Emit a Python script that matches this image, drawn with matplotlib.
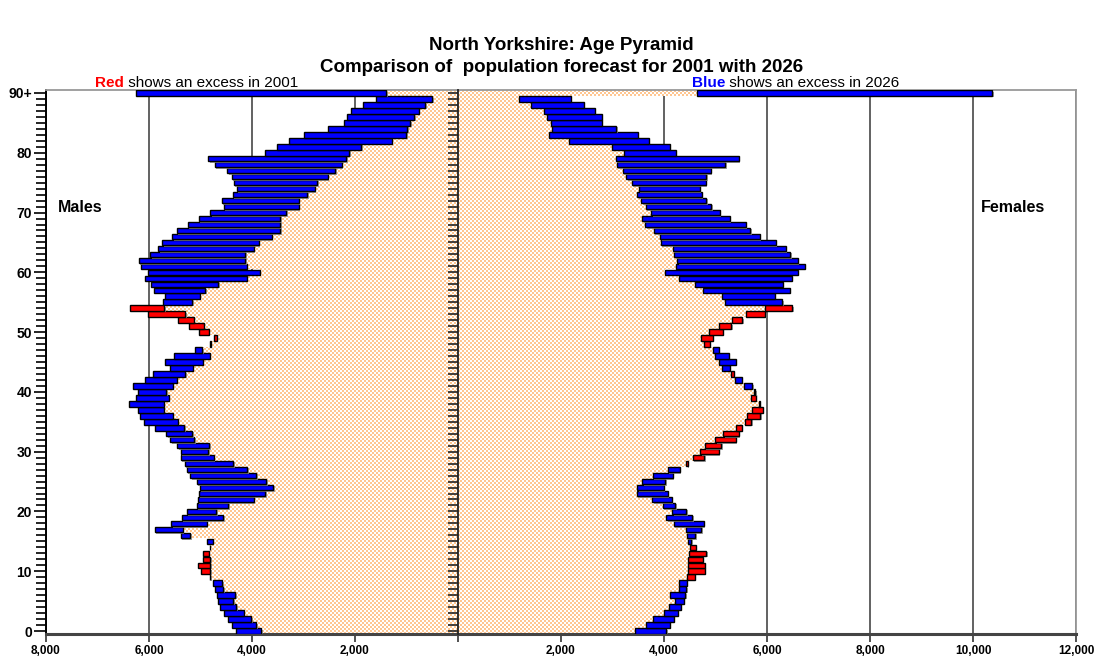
import numpy as np
import matplotlib
matplotlib.use("Agg")
import matplotlib.pyplot as plt
import matplotlib.patheffects as pe
from matplotlib.path import Path
from matplotlib.patches import PathPatch
from matplotlib.colors import ListedColormap
from matplotlib.ticker import FuncFormatter, MultipleLocator

plt.rcParams['font.family'] = ['Liberation Sans', 'DejaVu Sans']

# ---------------- data (age 0 .. 90+) ----------------
ages = np.arange(91)
age_tick_labels = ['0', '10', '20', '30', '40', '50', '60', '70', '80', '90+']

male_2001 = [3822, 3919, 4016, 4159, 4307, 4366, 4327, 4560, 4579, 4815,
             4994, 5052, 4955, 4955, 4820, 4760, 5201, 5343, 4877, 4560,
             4696, 4463, 3964, 3744, 3589, 3725, 3919, 4094, 4366, 4741,
             4851, 4832, 5123, 5162, 5317, 5440, 5537, 5718, 5712, 5615,
             5667, 5537, 5460, 5298, 5149, 4955, 4819, 4968, 4820, 4735,
             5032, 5227, 5434, 6016, 6372, 5162, 5013, 4909, 4657, 4100,
             3848, 4100, 4133, 4133, 3964, 3867, 3615, 3453, 3447, 3453,
             3337, 3097, 3097, 2929, 2786, 2735, 2527, 2385, 2256, 2172,
             2107, 1880, 1285, 1006, 987, 929, 845, 760, 638, 502,
             1395]
male_2026 = [4307, 4385, 4463, 4547, 4612, 4663, 4683, 4728, 4761, 4806,
             4812, 4812, 4812, 4838, 4820, 4877, 5388, 5893, 5570, 5363,
             5265, 5071, 5058, 5032, 5013, 5071, 5201, 5265, 5304, 5382,
             5388, 5453, 5583, 5667, 5893, 6100, 6171, 6210, 6392, 6262,
             6210, 6320, 6087, 5919, 5583, 5680, 5505, 5110, 4800, 4683,
             4838, 4935, 5130, 5298, 5705, 5725, 5699, 5906, 5964, 6075,
             6029, 6146, 6197, 5977, 5822, 5744, 5550, 5460, 5246, 5032,
             4806, 4547, 4586, 4372, 4294, 4359, 4392, 4482, 4728, 4845,
             3757, 3505, 3285, 2981, 2527, 2217, 2152, 2074, 1848, 1589,
             6262]
female_2001 = [3437, 3657, 3780, 4000, 4104, 4220, 4123, 4291, 4291, 4595,
               4796, 4790, 4757, 4822, 4615, 4472, 4447, 4421, 4188, 4045,
               4162, 3981, 3773, 3476, 3482, 3579, 3786, 4071, 4466, 4783,
               5068, 5113, 5392, 5456, 5508, 5696, 5871, 5922, 5860, 5780,
               5770, 5553, 5379, 5353, 5126, 5068, 4997, 4958, 4887, 4951,
               5146, 5307, 5521, 5968, 6492, 5178, 5126, 4757, 4608, 4291,
               4019, 4239, 4259, 4201, 4175, 3942, 3929, 3799, 3638, 3579,
               3754, 3644, 3560, 3482, 3508, 3379, 3269, 3204, 3087, 3061,
               3217, 2990, 2149, 1767, 1825, 1799, 1735, 1670, 1411, 1178,
               4648]
female_2026 = [4045, 4110, 4194, 4272, 4330, 4382, 4414, 4434, 4447, 4453,
               4460, 4460, 4472, 4485, 4511, 4531, 4608, 4725, 4770, 4550,
               4434, 4220, 4155, 4078, 4000, 4026, 4175, 4304, 4434, 4563,
               4706, 4796, 4997, 5152, 5392, 5573, 5618, 5709, 5845, 5696,
               5750, 5715, 5515, 5307, 5275, 5392, 5262, 5068, 4783, 4725,
               4880, 5074, 5320, 5599, 5961, 6298, 6149, 6440, 6311, 6485,
               6602, 6731, 6602, 6453, 6362, 6168, 5858, 5676, 5586, 5275,
               5081, 4919, 4822, 4738, 4693, 4809, 4822, 4906, 5191, 5456,
               4227, 4110, 3702, 3495, 3074, 2796, 2796, 2654, 2447, 2188,
               10377]

m01, m26 = np.array(male_2001), np.array(male_2026)
f01, f26 = np.array(female_2001), np.array(female_2026)

BLUE, RED = '#0000FF', '#FF0000'
PEACH = '#FFC690'

W, H = 1095, 662
AX_L, AX_B, AX_W, AX_H = 46, 28, 1030, 544   # pixel-exact axes box
fig = plt.figure(figsize=(W / 100, H / 100), dpi=100)
ax = fig.add_axes([AX_L / W, AX_B / H, AX_W / W, AX_H / H])
XMIN, XMAX, YMIN, YMAX = -8000, 12000, -0.5, 90.5

# gridlines
ax.set_xticks(np.arange(-8000, 12001, 2000))
ax.grid(axis='x', color='#555555', lw=1.3, zorder=0)
ax.set_axisbelow(True)

# common part (minimum of both years) -> checkered fill
m_min = np.minimum(m01, m26)
f_min = np.minimum(f01, f26)
ob_m = ax.barh(ages, -m_min, height=1.0, color='none', lw=0, zorder=2)
ob_f = ax.barh(ages, f_min, height=1.0, color='none', lw=0, zorder=2)
paths = [p.get_path().transformed(p.get_patch_transform())
         for p in list(ob_m) + list(ob_f)]
clip = PathPatch(Path.make_compound_path(*paths), transform=ax.transData,
                 facecolor='none', edgecolor='none')
ax.add_patch(clip)
nx, ny = AX_W // 2, AX_H // 2
checker = np.add.outer(np.arange(ny), np.arange(nx)) % 2
im = ax.imshow(checker, cmap=ListedColormap(['white', PEACH]),
               extent=[XMIN, XMAX, YMIN, YMAX], aspect='auto',
               interpolation='nearest', interpolation_stage='rgba',
               zorder=2, origin='lower')
im.set_clip_path(clip)

# difference bars
shadow = [pe.SimplePatchShadow(offset=(1.0, -1.0), shadow_rgbFace='#888888', alpha=0.8),
          pe.Normal()]
m_col = [BLUE if b > a else RED for a, b in zip(m01, m26)]
f_col = [BLUE if b > a else RED for a, b in zip(f01, f26)]
m_max = np.maximum(m01, m26)
f_max = np.maximum(f01, f26)
ax.barh(ages, -(m_max - m_min), left=-m_min, height=0.92, color=m_col,
        edgecolor='black', lw=1.0, zorder=3, path_effects=shadow)
ax.barh(ages, (f_max - f_min), left=f_min, height=0.92, color=f_col,
        edgecolor='black', lw=1.0, zorder=3, path_effects=shadow)

ax.set_xlim(XMIN, XMAX)
ax.set_ylim(YMIN, YMAX)

# axes styling
ax.xaxis.set_major_formatter(FuncFormatter(lambda v, p: '' if v == 0 else f'{abs(int(v)):,}'))
ax.set_yticks(np.arange(0, 91, 10))
ax.set_yticklabels(age_tick_labels)
ax.yaxis.set_minor_locator(MultipleLocator(1))
ax.tick_params(axis='y', which='major', length=9, width=1.2, color='black',
               labelsize=10, pad=1)
ax.tick_params(axis='y', which='minor', length=7, width=1.2, color='black')
ax.tick_params(axis='x', which='major', length=6, width=1.2, color='#333333',
               labelsize=8.5, pad=2)
for lab in ax.get_xticklabels() + ax.get_yticklabels():
    lab.set_fontweight('bold')
ax.spines['left'].set_color('black')
ax.spines['left'].set_linewidth(1.4)
ax.spines['bottom'].set_color('#444444')
ax.spines['bottom'].set_linewidth(2.2)
for s in ('top', 'right'):
    ax.spines[s].set_color('#999999')
    ax.spines[s].set_linewidth(1.3)

# central divider with inward ticks
sec = ax.secondary_yaxis(0.4)
sec.set_yticks(np.arange(0, 91, 10))
sec.yaxis.set_minor_locator(MultipleLocator(1))
sec.tick_params(axis='y', which='both', length=7, width=1.2, color='#222222',
                labelleft=False, labelright=False)
sec.spines['left'].set_color('#222222')
sec.spines['left'].set_linewidth(1.3)
sec.set_zorder(5)

# titles
fig.text(0.513, 0.932, 'North Yorkshire: Age Pyramid', ha='center', va='center',
         fontsize=13.5, fontweight='bold')
fig.text(0.513, 0.898, 'Comparison of  population forecast for 2001 with 2026',
         ha='center', va='center', fontsize=13.5, fontweight='bold')

# legends-in-text
t1 = fig.text(95 / W, 1 - 87 / H, 'Red', color=RED, fontweight='bold',
              fontsize=11, ha='left', va='baseline')
fig.add_artist(plt.Annotation(' shows an excess in 2001', xy=(1, 0), xycoords=t1,
                              ha='left', va='bottom', fontsize=11))
t2 = fig.text(692 / W, 1 - 87 / H, 'Blue', color=BLUE, fontweight='bold',
              fontsize=11, ha='left', va='baseline')
fig.add_artist(plt.Annotation(' shows an excess in 2026', xy=(1, 0), xycoords=t2,
                              ha='left', va='bottom', fontsize=11))

fig.text(58 / W, 1 - 207 / H, 'Males', fontweight='bold', fontsize=11.5,
         ha='left', va='center')
fig.text(1013 / W, 1 - 207 / H, 'Females', fontweight='bold', fontsize=11.5,
         ha='center', va='center')

fig.savefig('out.png', dpi=100, facecolor='white')
